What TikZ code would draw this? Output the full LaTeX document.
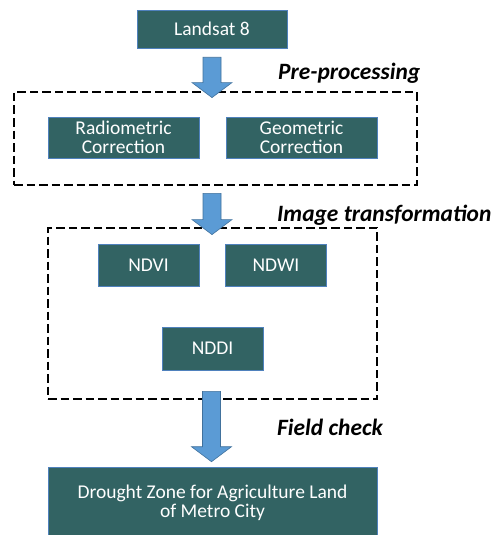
\documentclass[tikz,border=0pt]{standalone}
\usepackage{fontspec}
\setmainfont{Carlito}
\usetikzlibrary{calc}

\definecolor{boxteal}{RGB}{50,99,99}
\definecolor{boxedge}{RGB}{79,129,189}
\definecolor{arrowblue}{RGB}{91,155,213}
\definecolor{arrowedge}{RGB}{65,113,156}

% block arrow straight down from #1 to the tip at #2
\newcommand{\flowarrow}[2]{%
  \draw[flow arrow] let \p1=(#1), \p2=(#2) in
    (\x1-9pt,\y1) -- (\x1+9pt,\y1) -- (\x1+9pt,\y2+15pt) -- (\x1+20pt,\y2+15pt)
    -- (\x1,\y2) -- (\x1-20pt,\y2+15pt) -- (\x1-9pt,\y2+15pt) -- cycle;
}

\begin{document}
\begin{tikzpicture}[
    x=1pt, y=-1pt,
    stage/.style={
        rectangle,
        draw=boxedge,
        line width=0.6pt,
        fill=boxteal,
        text=white,
        inner sep=0pt,
        align=center,
        font=\fontsize{19.5}{19.5}\selectfont
    },
    group box/.style={
        rectangle,
        draw=black,
        line width=2.8pt,
        dash pattern=on 8.5pt off 4pt,
        inner sep=0pt
    },
    step label/.style={
        anchor=west,
        inner sep=0pt,
        font=\fontsize{23.4}{25}\selectfont\bfseries\itshape
    },
    flow arrow/.style={
        fill=arrowblue,
        draw=arrowedge,
        line width=0.6pt
    }
]
\useasboundingbox (0,0) rectangle (490,535);

% input
\node[stage, minimum width=150pt, minimum height=38pt] (landsat) at (212,29) {Landsat 8};

% pre-processing group
\node[group box, minimum width=403pt, minimum height=93pt] (pre) at (215.5,138.5) {};
\node[step label] (prelabel) at (278,73) {Pre-processing};
\node[stage, minimum width=151pt, minimum height=41pt] (radio) at (123.5,137.5) {Radiometric\\Correction};
\node[stage, minimum width=151pt, minimum height=41pt] (geo)   at (301.5,137.5) {Geometric\\Correction};

% index group
\node[group box, minimum width=329pt, minimum height=171pt] (trans) at (212.5,313.5) {};
\node[step label] (translabel) at (277,215) {Image transformation};
\node[stage, minimum width=101pt, minimum height=42pt] (ndvi) at (148.5,265) {NDVI};
\node[stage, minimum width=101pt, minimum height=42pt] (ndwi) at (276,265)   {NDWI};
\node[stage, minimum width=101pt, minimum height=43pt] (nddi) at (212.5,348.5) {NDDI};

% output
\node[step label] (checklabel) at (277,427) {Field check};
\node[stage, minimum width=329pt, minimum height=72pt] (zone) at (212.5,503) {Drought Zone for Agriculture Land\\of Metro City};

% arrows between the stages
\flowarrow{$(landsat.south)+(0,9)$}{$(pre.north)+(0,7)$}
\flowarrow{$(pre.south)+(-3.5,7)$}{$(trans.north)+(0,8)$}
\flowarrow{$(trans.south)+(-1,-9)$}{$(zone.north)+(0,-5)$}

\end{tikzpicture}
\end{document}
